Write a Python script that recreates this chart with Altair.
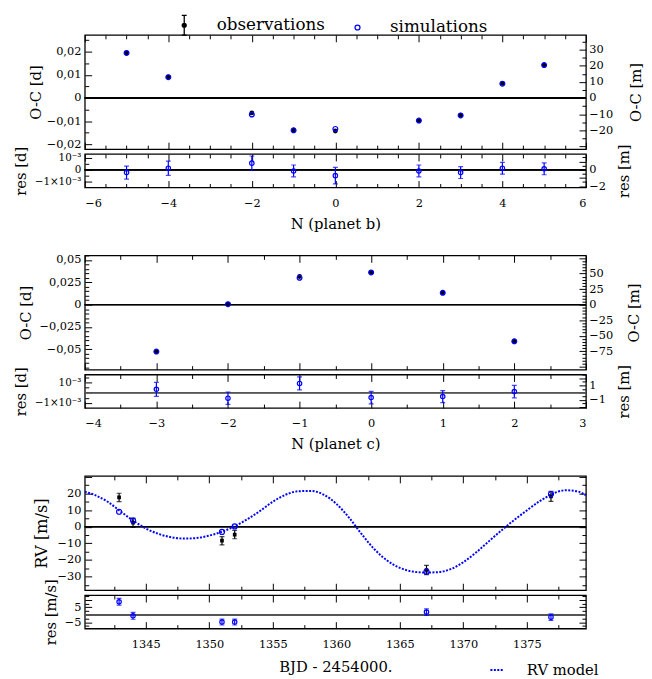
import altair as alt
import pandas as pd

FONT = "DejaVu Serif"
BLUE = "#0000ff"
W = 509
H_MAIN = 116
H_RES = 34
GAP = 5
GROUP_GAP = 69
MIN_PER_DAY = 1440

# ---------------- planet b ----------------
b_epoch = [-5, -4, -2, -1, 0, 2, 3, 4, 5]
b_oc_obs = [0.0194, 0.0091, -0.0064, -0.0138, -0.0142, -0.0098, -0.0074, 0.0063, 0.0142]
b_oc_sim = [0.0194, 0.0090, -0.0071, -0.0139, -0.0133, -0.0097, -0.0075, 0.0062, 0.0142]
b_res = [-0.00024, 0.00013, 0.00056, -0.00010, -0.00050, -0.00010, -0.00024, 0.00013, 0.00008]
b_res_err = [0.00055, 0.00060, 0.00060, 0.00050, 0.00070, 0.00050, 0.00050, 0.00050, 0.00050]

# ---------------- planet c ----------------
c_epoch = [-3, -2, -1, 0, 1, 2]
c_oc_obs = [-0.0525, 0.0007, 0.0315, 0.0362, 0.0134, -0.0409]
c_oc_sim = [-0.0525, 0.0005, 0.0301, 0.0360, 0.0133, -0.0410]
c_res = [0.00032, -0.00054, 0.00089, -0.00048, -0.00038, 0.00010]
c_res_err = [0.00068, 0.00060, 0.00063, 0.00060, 0.00058, 0.00060]

# ---------------- radial velocities ----------------
rv_t = [1342.9, 1344.0, 1351.0, 1352.0, 1367.1, 1376.9]
rv_obs = [17.6, 2.4, -8.4, -4.7, -26.0, 18.2]
rv_err = [2.5, 2.8, 2.5, 2.5, 2.8, 3.0]
rv_sim = [9.0, 3.7, -3.1, 0.2, -27.0, 19.6]
rv_res = [8.8, -0.7, -4.9, -4.9, 1.8, -1.6]
rv_res_err = [2.3, 2.3, 2.0, 2.0, 2.2, 2.2]

model_t = [1340.2, 1341, 1342, 1343, 1344, 1345, 1346, 1347, 1348, 1349, 1350,
           1351, 1352, 1353, 1354, 1355, 1356, 1357, 1358, 1359, 1360, 1361,
           1362, 1363, 1364, 1365, 1366, 1367, 1368, 1369, 1370, 1371, 1372,
           1373, 1374, 1375, 1376, 1377, 1378, 1379, 1379.65]
model_rv = [21.0, 19.0, 15.0, 9.3, 3.7, -1.0, -4.3, -6.3, -7.1, -6.8, -5.3,
            -3.0, 0.3, 4.5, 9.5, 15.0, 19.2, 21.3, 21.5, 19.3, 13.8, 5.5,
            -4.5, -13.5, -20.3, -24.7, -26.9, -27.5, -27.3, -25.5, -21.3, -15.5, -8.8,
            -2.2, 4.0, 9.8, 15.3, 19.6, 21.9, 21.2, 18.8]

legend_kinds = ["observations", "simulations"]
model_name = ["RV model"]

# ---------------- tick labels ----------------
b_x_labels = [-6, -4, -2, 0, 2, 4, 6]
b_y_labels = [-0.02, -0.01, 0, 0.01, 0.02]
b_y2_labels = [-20, -10, 0, 10, 20, 30]
b_res_labels = [-0.001, 0, 0.001]
b_res2_labels = [-2, 0]
c_x_labels = [-4, -3, -2, -1, 0, 1, 2, 3]
c_y_labels = [-0.05, -0.025, 0, 0.025, 0.05]
c_y2_labels = [-75, -50, -25, 0, 25, 50]
c_res_labels = [-0.001, 0, 0.001]
c_res2_labels = [-1, 1]
rv_x_labels = [1345, 1350, 1355, 1360, 1365, 1370, 1375]
rv_y_labels = [-30, -20, -10, 0, 10, 20]
rv_res_labels = [-5, 5]


def steps(lo, hi, step, skip=()):
    out = []
    k = 0
    while True:
        v = round(lo + k * step, 10)
        if v > hi + 1e-12:
            break
        if all(abs(v - s) > 1e-9 for s in skip):
            out.append(v)
        k += 1
    return out


def sc(dom):
    return alt.Scale(domain=dom, nice=False, zero=False)


def tick_axis(orient, values, size, offset):
    return alt.Axis(orient=orient, values=values, tickSize=size, offset=offset,
                    labels=False, domain=False, grid=False, title=None,
                    ticks=True, tickColor="black", tickWidth=1)


def label_axis(orient, values, title=None, fmt=None, expr=None, title_pad=6,
               label_pad=4, angle=None, baseline=None, label_size=11.5, title_size=15):
    kw = dict(orient=orient, values=values, ticks=False, domain=False, grid=False,
              labelPadding=label_pad, titlePadding=title_pad,
              labelFontSize=label_size, titleFontSize=title_size)
    kw["title"] = title if title else None
    if fmt:
        kw["format"] = fmt
    if expr:
        kw["labelExpr"] = expr
    if angle is not None:
        kw["titleAngle"] = angle
    if baseline:
        kw["titleBaseline"] = baseline
    return alt.Axis(**kw)


def carrier(df, xf, xdom, xaxis, yf, ydom, yaxis):
    return alt.Chart(df).mark_point(opacity=0).encode(
        x=alt.X(xf, type="quantitative", scale=sc(xdom), axis=xaxis),
        y=alt.Y(yf, type="quantitative", scale=sc(ydom), axis=yaxis),
    )


def panel(df, xf, xdom, yf, ydom, yf2, ydom2, H,
          xmaj, xmin, ymaj, ymin, y2maj, y2min,
          ylab, y2lab, xlab, data_layers):
    layers = [
        carrier(df, xf, xdom, tick_axis("bottom", xmaj, 7, -H), yf, ydom, ylab),
        carrier(df, xf, xdom, tick_axis("bottom", xmin, 4, -H), yf, ydom, tick_axis("right", ymaj, 7, -W)),
        carrier(df, xf, xdom, tick_axis("top", xmaj, 7, -H), yf, ydom, tick_axis("right", ymin, 4, -W)),
        carrier(df, xf, xdom, tick_axis("top", xmin, 4, -H), yf2, ydom2, y2lab),
        carrier(df, xf, xdom, xlab, yf2, ydom2, tick_axis("left", y2maj, 7, -W)),
        carrier(df, xf, xdom, None, yf2, ydom2, tick_axis("left", y2min, 4, -W)),
    ] + data_layers
    return alt.layer(*layers).resolve_scale(y="independent").resolve_axis(
        x="independent", y="independent").properties(width=W, height=H)


def zero_rule(df, dom, color="black", sw=1.0):
    return alt.Chart(df).mark_rule(color=color, strokeWidth=sw).encode(
        y=alt.YDatum(0, type="quantitative", scale=sc(dom), axis=None))


def oc_points(df, xdom, ydom):
    obs = alt.Chart(df).mark_point(filled=True, color="black", size=24, opacity=1, clip=True).encode(
        x=alt.X("n:Q", scale=sc(xdom), axis=None), y=alt.Y("obs:Q", scale=sc(ydom), axis=None))
    sim = alt.Chart(df).mark_point(filled=False, color=BLUE, size=24, strokeWidth=1.2, opacity=1, clip=True).encode(
        x=alt.X("n:Q", scale=sc(xdom), axis=None), y=alt.Y("sim:Q", scale=sc(ydom), axis=None))
    return [obs, sim]


def res_points(df, xf, xdom, ydom, yf="res", color=BLUE, shape="circle", filled=False, size=20):
    x = alt.X(xf, type="quantitative", scale=sc(xdom), axis=None)
    bar = alt.Chart(df).mark_rule(color=color, strokeWidth=1.2, clip=True).encode(
        x=x, y=alt.Y("lo:Q", scale=sc(ydom), axis=None), y2="hi:Q")
    cap_lo = alt.Chart(df).mark_tick(color=color, orient="horizontal", size=5, thickness=1.2, clip=True).encode(
        x=x, y=alt.Y("lo:Q", scale=sc(ydom), axis=None))
    cap_hi = alt.Chart(df).mark_tick(color=color, orient="horizontal", size=5, thickness=1.2, clip=True).encode(
        x=x, y=alt.Y("hi:Q", scale=sc(ydom), axis=None))
    pts = alt.Chart(df).mark_point(filled=filled, color=color, size=size, shape=shape,
                                   strokeWidth=1.2, opacity=1, clip=True).encode(
        x=x, y=alt.Y(yf, type="quantitative", scale=sc(ydom), axis=None))
    return [bar, cap_lo, cap_hi, pts]


COMMA = "replace(datum.label, '.', ',')"
RES_EXPR = "datum.value == 0 ? '0' : (datum.value > 0 ? '10⁻³' : '−1×10⁻³')"

# ---------------- frames ----------------
b_df = pd.DataFrame({"n": b_epoch, "obs": b_oc_obs, "sim": b_oc_sim, "res": b_res, "err": b_res_err})
b_df["obs_min"] = b_df["obs"] * MIN_PER_DAY
b_df["res_min"] = b_df["res"] * MIN_PER_DAY
b_df["lo"] = b_df["res"] - b_df["err"]
b_df["hi"] = b_df["res"] + b_df["err"]

c_df = pd.DataFrame({"n": c_epoch, "obs": c_oc_obs, "sim": c_oc_sim, "res": c_res, "err": c_res_err})
c_df["obs_min"] = c_df["obs"] * MIN_PER_DAY
c_df["res_min"] = c_df["res"] * MIN_PER_DAY
c_df["lo"] = c_df["res"] - c_df["err"]
c_df["hi"] = c_df["res"] + c_df["err"]

rv_df = pd.DataFrame({"t": rv_t, "obs": rv_obs, "err": rv_err, "sim": rv_sim})
rv_df["lo"] = rv_df["obs"] - rv_df["err"]
rv_df["hi"] = rv_df["obs"] + rv_df["err"]
rvr_df = pd.DataFrame({"t": rv_t, "res": rv_res, "err": rv_res_err})
rvr_df["lo"] = rvr_df["res"] - rvr_df["err"]
rvr_df["hi"] = rvr_df["res"] + rvr_df["err"]
model_df = pd.DataFrame({"t": model_t, "rv": model_rv})
leg_df = pd.DataFrame({"kind": legend_kinds})
mod_leg_df = pd.DataFrame({"model": model_name})

# ---------------- domains ----------------
b_xdom = [-6, 6]
b_ydom = [-0.0220, 0.0272]
b_y2dom = [v * MIN_PER_DAY for v in b_ydom]
b_rdom = [-0.00150, 0.00133]
b_r2dom = [v * MIN_PER_DAY for v in b_rdom]

c_xdom = [-4, 3]
c_ydom = [-0.0727, 0.0551]
c_y2dom = [v * MIN_PER_DAY for v in c_ydom]
c_rdom = [-0.00149, 0.00175]
c_r2dom = [v * MIN_PER_DAY for v in c_rdom]

rv_xdom = [1340.2, 1379.65]
rv_ydom = [-38.1, 30.5]
rv_rdom = [-9.3, 13.3]

# ---------------- legend (top) ----------------
OBS_PATH = ("M0,-1V1M-0.25,-1H0.25M-0.25,1H0.25"
            "M-0.2,0A0.2,0.2,0,1,0,0.2,0A0.2,0.2,0,1,0,-0.2,0Z")
SIM_PATH = "M-0.25,0A0.25,0.25,0,1,0,0.25,0A0.25,0.25,0,1,0,-0.25,0Z"
top_legend = alt.Legend(orient="none", legendX=90, legendY=-21, direction="horizontal",
                        title=None, labelFont=FONT, labelFontSize=17, labelColor="black",
                        symbolSize=400, symbolStrokeWidth=1.3, symbolOpacity=1,
                        labelOffset=22, columnPadding=22, padding=0)
legend_layer = alt.Chart(leg_df).mark_point(opacity=0).encode(
    shape=alt.Shape("kind:N", scale=alt.Scale(domain=legend_kinds, range=[OBS_PATH, SIM_PATH]), legend=top_legend),
    fill=alt.Fill("kind:N", scale=alt.Scale(domain=legend_kinds, range=["black", "transparent"]), legend=top_legend),
    stroke=alt.Stroke("kind:N", scale=alt.Scale(domain=legend_kinds, range=["black", BLUE]), legend=top_legend),
)

# ---------------- planet b panels ----------------
b_main = panel(
    b_df, "n", b_xdom, "obs", b_ydom, "obs_min", b_y2dom, H_MAIN,
    b_x_labels, steps(-6, 6, 0.5, b_x_labels),
    b_y_labels, steps(-0.02, 0.025, 0.005, b_y_labels),
    steps(-30, 30, 10), steps(-25, 35, 10),
    label_axis("left", b_y_labels, "O-C [d]", fmt=".2~f", expr=COMMA, title_pad=3),
    label_axis("right", b_y2_labels, "O-C [m]", fmt="d", angle=270, baseline="top",
               label_pad=3, title_pad=16),
    None,
    [zero_rule(b_df, b_ydom)] + oc_points(b_df, b_xdom, b_ydom) + [legend_layer],
)
b_resid = panel(
    b_df, "n", b_xdom, "res", b_rdom, "res_min", b_r2dom, H_RES,
    b_x_labels, steps(-6, 6, 0.5, b_x_labels),
    b_res_labels, [-0.0005, 0.0005],
    [-2, -1, 0, 1], [-1.5, -0.5, 0.5, 1.5],
    label_axis("left", b_res_labels, "res [d]", expr=RES_EXPR, label_size=10.5),
    label_axis("right", b_res2_labels, "res [m]", fmt="d", angle=270, baseline="top",
               label_pad=3, title_pad=11),
    label_axis("bottom", b_x_labels, "N (planet b)", fmt="d", label_pad=10, title_pad=8),
    [zero_rule(b_df, b_rdom)] + res_points(b_df, "n", b_xdom, b_rdom),
)

# ---------------- planet c panels ----------------
c_main = panel(
    c_df, "n", c_xdom, "obs", c_ydom, "obs_min", c_y2dom, H_MAIN,
    c_x_labels, steps(-4, 3, 0.5, c_x_labels),
    c_y_labels, steps(-0.07, 0.055, 0.005, c_y_labels),
    steps(-100, 75, 25), steps(-100, 75, 5, steps(-100, 75, 25)),
    label_axis("left", c_y_labels, "O-C [d]", fmt=".3~f", expr=COMMA),
    label_axis("right", c_y2_labels, "O-C [m]", fmt="d", angle=270, baseline="top",
               label_pad=3, title_pad=14),
    None,
    [zero_rule(c_df, c_ydom)] + oc_points(c_df, c_xdom, c_ydom),
)
c_resid = panel(
    c_df, "n", c_xdom, "res", c_rdom, "res_min", c_r2dom, H_RES,
    c_x_labels, steps(-4, 3, 0.5, c_x_labels),
    c_res_labels, [-0.0005, 0.0005, 0.0015],
    [-2, -1, 0, 1, 2], [-1.5, -0.5, 0.5, 1.5, 2.5],
    label_axis("left", c_res_labels, "res [d]", expr=RES_EXPR, label_size=10.5),
    label_axis("right", c_res2_labels, "res [m]", fmt="d", angle=270, baseline="top",
               label_pad=3, title_pad=11),
    label_axis("bottom", c_x_labels, "N (planet c)", fmt="d", label_pad=10, title_pad=8),
    [zero_rule(c_df, c_rdom, color="#555555", sw=1.5)] + res_points(c_df, "n", c_xdom, c_rdom),
)

# ---------------- RV panels ----------------
rv_model_line = alt.Chart(model_df).mark_line(color=BLUE, strokeWidth=2, strokeDash=[2, 1.5],
                                              interpolate="monotone", clip=True).encode(
    x=alt.X("t:Q", scale=sc(rv_xdom), axis=None), y=alt.Y("rv:Q", scale=sc(rv_ydom), axis=None))
rv_obs_layers = res_points(rv_df, "t", rv_xdom, rv_ydom, yf="obs", color="black",
                           shape="square", filled=True, size=14)
rv_sim_layer = alt.Chart(rv_df).mark_point(filled=False, color=BLUE, size=26, strokeWidth=1.2,
                                           opacity=1, clip=True).encode(
    x=alt.X("t:Q", scale=sc(rv_xdom), axis=None), y=alt.Y("sim:Q", scale=sc(rv_ydom), axis=None))

rv_main = panel(
    rv_df, "t", rv_xdom, "obs", rv_ydom, "obs", rv_ydom, H_MAIN,
    rv_x_labels, steps(1342.5, 1377.5, 5),
    steps(-30, 30, 10), steps(-35, 25, 10),
    steps(-30, 30, 10), steps(-35, 25, 10),
    label_axis("left", rv_y_labels, "RV [m/s]", fmt="d", title_pad=8, title_size=16.5),
    None,
    None,
    [zero_rule(rv_df, rv_ydom), rv_model_line] + rv_obs_layers + [rv_sim_layer],
)

model_legend = alt.Legend(orient="none", legendX=411, legendY=68, title=None,
                          labelFont=FONT, labelFontSize=15, labelColor="black",
                          symbolType="stroke", symbolDash=[2, 1.5], symbolStrokeWidth=2,
                          symbolSize=196, symbolOpacity=1, labelOffset=22, padding=0)
model_legend_layer = alt.Chart(mod_leg_df).mark_point(opacity=0).encode(
    color=alt.Color("model:N", scale=alt.Scale(domain=model_name, range=[BLUE]), legend=model_legend))

rv_resid = panel(
    rvr_df, "t", rv_xdom, "res", rv_rdom, "res", rv_rdom, H_RES,
    rv_x_labels, steps(1342.5, 1377.5, 5),
    [-5, 0, 5, 10], [-7.5, -2.5, 2.5, 7.5, 12.5],
    [-5, 0, 5, 10], [-7.5, -2.5, 2.5, 7.5, 12.5],
    label_axis("left", rv_res_labels, "res [m/s]", fmt="d"),
    None,
    label_axis("bottom", rv_x_labels, "BJD - 2454000.", fmt="d", label_pad=10, title_pad=10),
    [zero_rule(rvr_df, rv_rdom, color="#555555", sw=1.5)] + res_points(rvr_df, "t", rv_xdom, rv_rdom)
    + [model_legend_layer],
)


def spacer():
    return alt.Chart(leg_df).mark_point(opacity=0).properties(
        width=W, height=GROUP_GAP - 2 * GAP,
        view=alt.ViewBackground(stroke="transparent", strokeWidth=0))


IND = dict(shape="independent", fill="independent", stroke="independent", color="independent")
chart = alt.vconcat(
    b_main, b_resid, spacer(), c_main, c_resid, spacer(), rv_main, rv_resid,
    spacing=GAP, bounds="flush",
).resolve_scale(**IND).properties(
    padding={"left": 4, "top": 0, "right": 0, "bottom": 0}
).configure(font=FONT).configure_view(
    stroke="black", strokeWidth=1.3
).configure_axis(
    labelFont=FONT, titleFont=FONT, labelFontSize=11.5, titleFontSize=15,
    titleFontWeight="normal", labelColor="black", titleColor="black", tickColor="black"
).configure_legend(labelFont=FONT)

chart.save("out.html", embed_options={"renderer": "svg", "actions": False})
